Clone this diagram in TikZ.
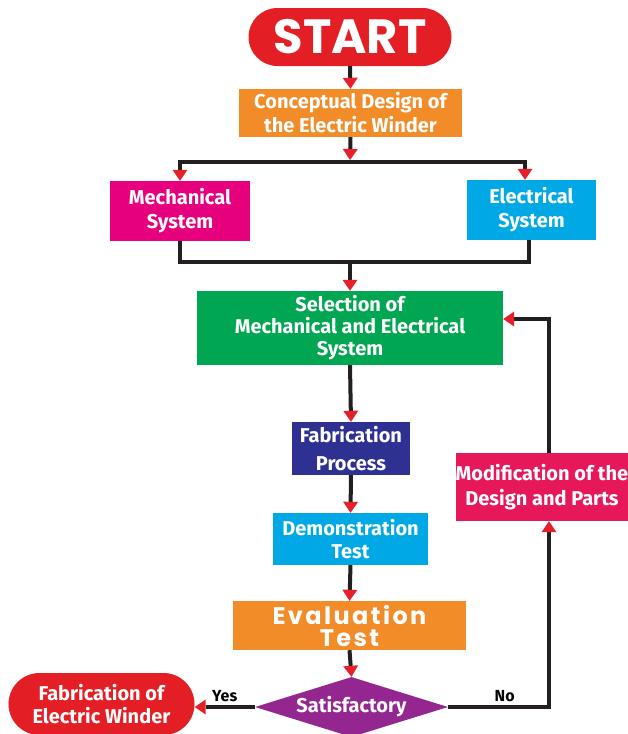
\documentclass[tikz,border=0pt]{standalone}
\usepackage{fontspec}
\setmainfont{Fira Sans}
\newfontfamily\popfont{Poppins}
\newfontfamily\popwide{Poppins}[LetterSpace=10]
\usetikzlibrary{arrows.meta,shapes.geometric}
\definecolor{startred}{HTML}{E31E24}
\definecolor{boxorange}{HTML}{F28C28}
\definecolor{boxmagenta}{HTML}{E6007E}
\definecolor{boxcyan}{HTML}{00A9E6}
\definecolor{boxgreen}{HTML}{00A651}
\definecolor{boxnavy}{HTML}{2E3192}
\definecolor{boxcrimson}{HTML}{E7185A}
\definecolor{boxpurple}{HTML}{93278F}
\definecolor{linec}{HTML}{231F20}
\definecolor{arrred}{HTML}{E5202A}
\tikzset{
  box/.style={rectangle, inner sep=0pt, text=white, align=center,
    font=\bfseries\fontsize{20}{24}\selectfont},
  pill/.style={box, rounded corners=#1},
  conn/.style={line width=4pt, draw=linec},
  arr/.style={conn, -{Triangle[width=15pt,length=11pt,line width=0pt,color=arrred]}},
  lbl/.style={text=black, inner sep=0pt, font=\bfseries\fontsize{16}{18}\selectfont}
}
\begin{document}
\begin{tikzpicture}[x=1pt,y=-1pt]
\useasboundingbox (0,0) rectangle (627,734);
% nodes
\node[pill=29pt, fill=startred, minimum width=203pt, minimum height=58pt,
  font=\popfont\bfseries\fontsize{48}{50}\selectfont] (start) at (350,37) {START};
\node[box, fill=boxorange, minimum width=223pt, minimum height=48pt] (concept) at (350.5,113)
  {Conceptual Design of\\the Electric Winder};
\node[box, fill=boxmagenta, minimum width=140pt, minimum height=60pt] (mech) at (180,211)
  {Mechanical\\System};
\node[box, fill=boxcyan, minimum width=129pt, minimum height=60pt] (elec) at (531.5,210)
  {Electrical\\System};
\node[box, fill=boxgreen, minimum width=306pt, minimum height=74pt,
  font=\bfseries\fontsize{20}{22}\selectfont] (sel) at (350,328)
  {Selection of\\Mechanical and Electrical\\System};
\node[box, fill=boxnavy, minimum width=118pt, minimum height=53pt,
  font=\bfseries\fontsize{20}{28}\selectfont] (fab) at (351,448.5)
  {Fabrication\\Process};
\node[box, fill=boxcyan, minimum width=155pt, minimum height=52pt,
  font=\bfseries\fontsize{20}{23}\selectfont] (demo) at (350.5,539)
  {Demonstration\\Test};
\node[box, fill=boxorange, minimum width=233pt, minimum height=49pt,
  font=\popwide\bfseries\fontsize{24}{22}\selectfont] (eval) at (349.5,625.5)
  {Evaluation\\Test};
\node[diamond, aspect=3.2, inner sep=0pt, fill=boxpurple, text=white,
  minimum width=193pt, minimum height=60pt,
  font=\bfseries\fontsize{20}{24}\selectfont] (dia) at (351.5,707) {Satisfactory};
\node[pill=31pt, fill=startred, minimum width=186pt, minimum height=62pt,
  font=\bfseries\fontsize{20}{23}\selectfont] (fabew) at (101.5,704)
  {Fabrication of\\Electric Winder};
\node[box, fill=boxcrimson, minimum width=172pt, minimum height=68pt,
  font=\bfseries\fontsize{20}{25}\selectfont] (mod) at (542,487)
  {Modification of the\\Design and Parts};
% helper coordinates
\coordinate (bjt) at (350,160);
\coordinate (bj) at (350,162);
\coordinate (ex) at (525,0);
\coordinate (bb) at (350,262);
\coordinate (ebx) at (529,0);
\coordinate (fbx) at (549,0);
\coordinate (fby) at (0,319);
% connectors
\draw[arr] (start.south) -- (concept.north);
\draw[arr] (concept.south) -- (bjt);
\draw[arr] (bj) -| (mech.north);
\draw[arr] (bj) -| (elec.north -| ex);
\draw[conn] (mech.south) |- (bb) -| (elec.south -| ebx);
\draw[arr] (bb) -- (sel.north);
\draw[arr] (sel.south) -- (fab.north);
\draw[arr] (fab.south) -- (demo.north);
\draw[arr] (demo.south) -- (eval.north);
\draw[arr] (eval.south) -- (dia.north);
\draw[arr] (dia.west) -- (fabew.east |- dia.west) node[lbl, pos=0.5, above=3pt] {Yes};
\draw[arr] (dia.east) -| (mod.south -| fbx) node[lbl, pos=0.28, above=3pt] {No};
\draw[arr] (mod.north -| fbx) |- (sel.east |- fby);
\end{tikzpicture}
\end{document}
